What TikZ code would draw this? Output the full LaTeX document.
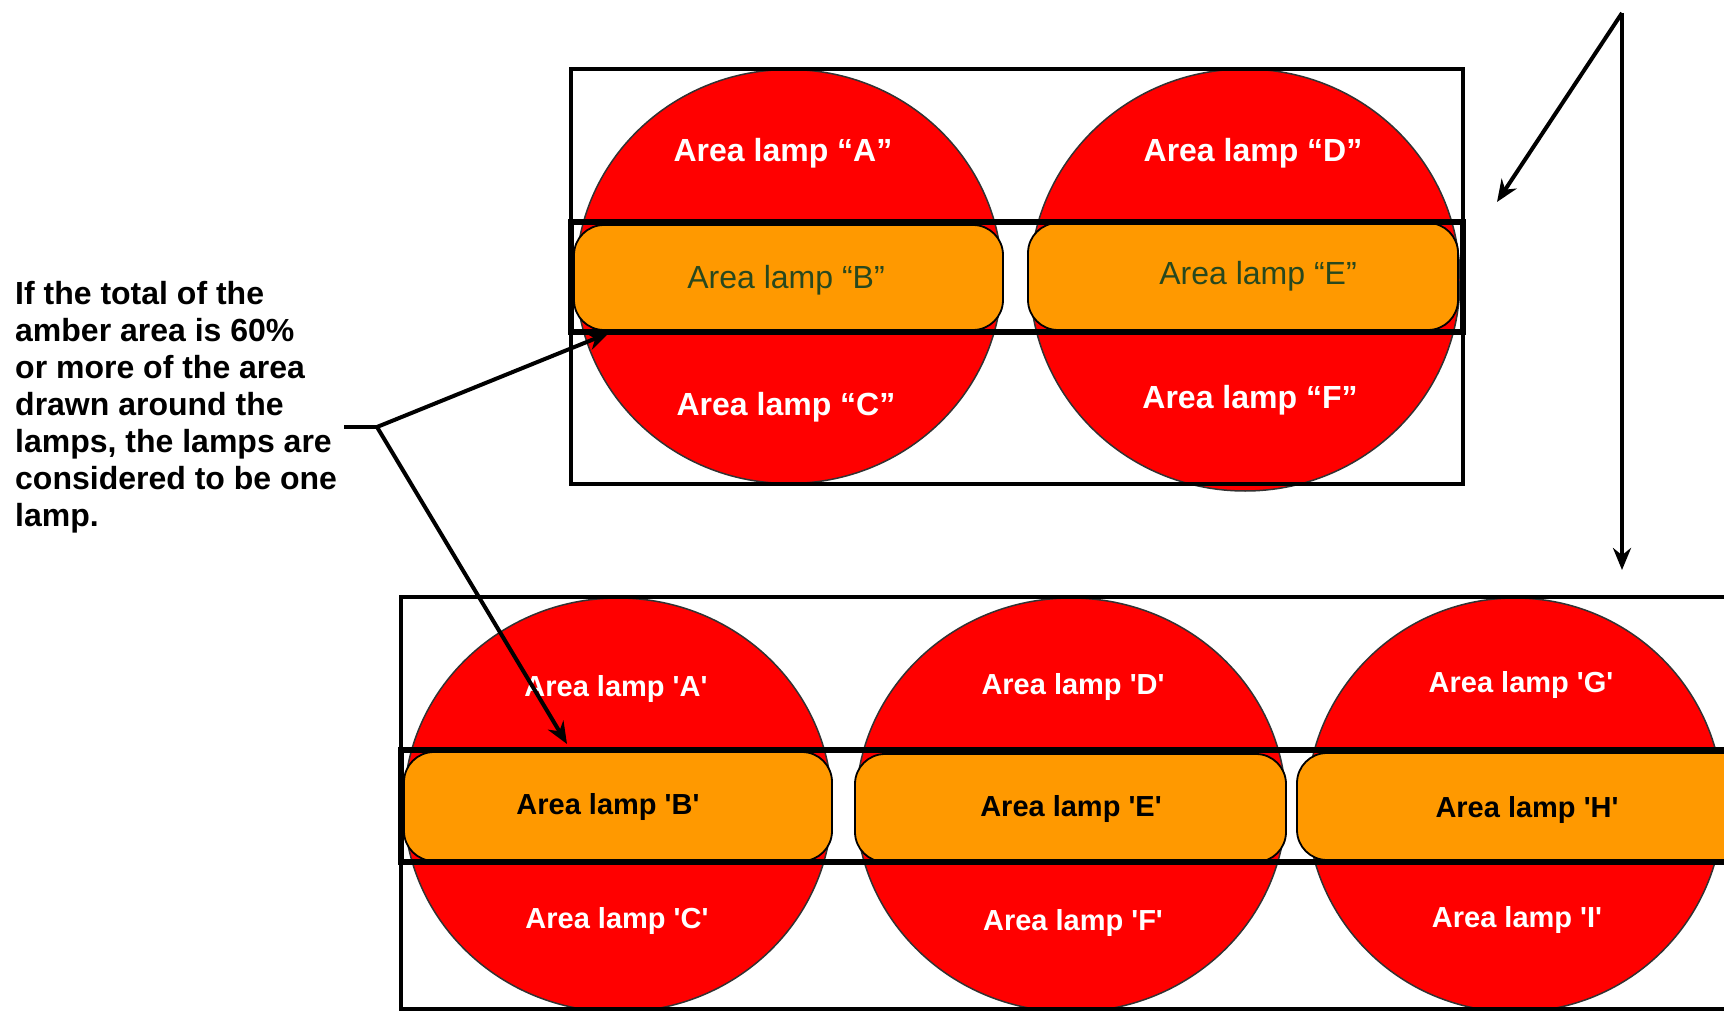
\documentclass[tikz,border=0pt]{standalone}
\usepackage{fontspec}
\newfontfamily\arial{Liberation Sans}
\usetikzlibrary{arrows.meta}
\definecolor{lampred}{RGB}{255,0,0}
\definecolor{amber}{RGB}{255,153,0}
\definecolor{dgreen}{RGB}{40,72,30}
\definecolor{edge}{RGB}{50,50,50}
\tikzset{
  frame/.style={draw=black, line width=4.5pt},
  band/.style={draw=black, line width=5.5pt},
  lamp/.style={fill=lampred, draw=edge, line width=1.5pt},
  amberbox/.style={fill=amber, draw=black, line width=1.8pt, rounded corners=30pt},
  toplab/.style={text=white, font=\arial\bfseries\fontsize{32}{37}\selectfont, inner sep=0pt},
  midlab/.style={text=dgreen, font=\arial\fontsize{32}{37}\selectfont, inner sep=0pt},
  botlab/.style={text=white, font=\arial\bfseries\fontsize{29}{34}\selectfont, inner sep=0pt},
  botmid/.style={text=black, font=\arial\bfseries\fontsize{29}{34}\selectfont, inner sep=0pt},
  para/.style={text=black, font=\arial\bfseries\fontsize{32}{37}\selectfont, inner sep=0pt, align=left, anchor=north west},
  arr/.style={draw=black, line width=4pt, -{Stealth[length=22pt,width=18pt]}},
  plain/.style={draw=black, line width=4pt}
}
\begin{document}
\begin{tikzpicture}[x=1pt,y=-1pt]
\useasboundingbox (0,0) rectangle (1724,1011);
\begin{scope}
\clip (0,0) rectangle (1724,1011);
% ---------- top group ----------
\draw[lamp] (789,276.5) ellipse [x radius=213, y radius=207];
\draw[lamp] (1245,280) ellipse [x radius=215, y radius=211];
\draw[amberbox] (574,225) rectangle (1003,330);
\draw[amberbox] (1028,223) rectangle (1458,330);
\draw[band] (571,222) rectangle (1463,332);
\draw[frame] (571,69) rectangle (1463,484);
\node[toplab] (tA) at (783,153) {Area lamp “A”};
\node[midlab] (tB) at (786,280) {Area lamp “B”};
\node[toplab] (tC) at (786,407) {Area lamp “C”};
\node[toplab] (tD) at (1253,153) {Area lamp “D”};
\node[midlab] (tE) at (1258,276) {Area lamp “E”};
\node[toplab] (tF) at (1250,400) {Area lamp “F”};
% ---------- bottom group ----------
\draw[lamp] (618,805) ellipse [x radius=214, y radius=207];
\draw[lamp] (1071,805) ellipse [x radius=215, y radius=207];
\draw[lamp] (1515,805) ellipse [x radius=208, y radius=207];
\draw[amberbox] (404,752) rectangle (832,861);
\draw[amberbox] (855,754) rectangle (1286,862);
\draw[amberbox] (1297,753) rectangle (1760,860);
\draw[band] (401,750) rectangle (1740,862);
\draw[frame] (401,597) rectangle (1740,1009);
\node[botlab] (bA) at (616,689) {Area lamp 'A'};
\node[botmid] (bB) at (608,807) {Area lamp 'B'};
\node[botlab] (bC) at (617,921) {Area lamp 'C'};
\node[botlab] (bD) at (1073,687) {Area lamp 'D'};
\node[botmid] (bE) at (1071,809) {Area lamp 'E'};
\node[botlab] (bF) at (1073,923) {Area lamp 'F'};
\node[botlab] (bG) at (1521,685) {Area lamp 'G'};
\node[botmid] (bH) at (1527,810) {Area lamp 'H'};
\node[botlab] (bI) at (1517,920) {Area lamp 'I'};
% ---------- explanation ----------
\node[para] (txt) at (15,281) {If the total of the\\amber area is 60\%\\or more of the area\\drawn around the\\lamps, the lamps are\\considered to be one\\lamp.};
\coordinate (stub) at (344,427);
\coordinate (junc) at (377,427);
\coordinate (tipB) at (609,333);
\coordinate (tipBB) at (567,744);
\draw[plain] (stub) -- (junc);
\draw[arr] (junc) -- (tipB);
\draw[arr] (junc) -- (tipBB);
% ---------- top right arrows ----------
\coordinate (apex) at (1622,13);
\coordinate (tipDiag) at (1497,202);
\coordinate (tipDown) at (1622,570);
\draw[arr] (apex) -- (tipDiag);
\draw[arr] (apex) -- (tipDown);
\end{scope}
\end{tikzpicture}
\end{document}
